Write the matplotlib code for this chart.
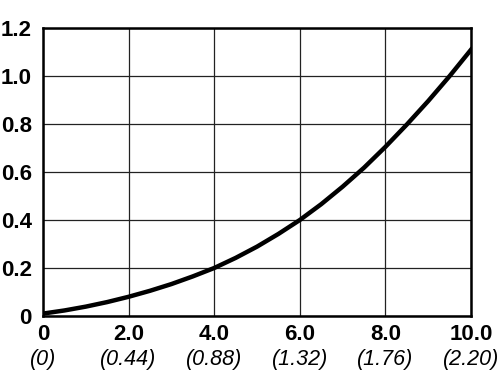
import matplotlib
matplotlib.use("Agg")
import matplotlib.pyplot as plt
from matplotlib import font_manager

# values
x_vals = [0, 0.5, 1, 1.5, 2, 2.5, 3, 3.5, 4, 4.5, 5, 5.5, 6, 6.5, 7, 7.5, 8, 8.5, 9, 9.5, 10]
y_vals = [0.01, 0.023, 0.039, 0.058, 0.08, 0.105, 0.133, 0.165, 0.20, 0.242, 0.289,
          0.342, 0.40, 0.466, 0.539, 0.618, 0.705, 0.798, 0.896, 1.0, 1.11]

x_ticks = [0, 2, 4, 6, 8, 10]
x_labels = ["0", "2.0", "4.0", "6.0", "8.0", "10.0"]
x_sub_labels = ["(0)", "(0.44)", "(0.88)", "(1.32)", "(1.76)", "(2.20)"]
y_ticks = [0, 0.2, 0.4, 0.6, 0.8, 1.0, 1.2]
y_labels = ["0", "0.2", "0.4", "0.6", "0.8", "1.0", "1.2"]

plt.rcParams["font.family"] = ["Liberation Sans", "DejaVu Sans"]

# pick the regular-width Liberation Sans files (avoid the Narrow variants)
bold_file, italic_file = None, None
for f in font_manager.fontManager.ttflist:
    if f.name == "Liberation Sans" and "Narrow" not in f.fname:
        if f.weight in (700, "bold") and f.style == "normal":
            bold_file = f.fname
        if f.weight in (400, "normal", "regular") and f.style == "italic":
            italic_file = f.fname
bold_fp = font_manager.FontProperties(fname=bold_file, size=16) if bold_file else \
    font_manager.FontProperties(family="DejaVu Sans", weight="bold", size=15)
italic_fp = font_manager.FontProperties(fname=italic_file, size=15.5) if italic_file else \
    font_manager.FontProperties(family="DejaVu Sans", style="italic", size=14)

fig = plt.figure(figsize=(5, 3.7), dpi=100)
ax = fig.add_axes([0.086, 0.146, 0.856, 0.778])

ax.plot(x_vals, y_vals, color="black", linewidth=3.2, solid_joinstyle="round", zorder=3)

ax.set_xlim(0, 10)
ax.set_ylim(0, 1.2)
ax.set_xticks(x_ticks)
ax.set_xticklabels(x_labels, fontproperties=bold_fp)
ax.set_yticks(y_ticks)
ax.set_yticklabels(y_labels, fontproperties=bold_fp)
ax.tick_params(axis="x", length=0, pad=6)
ax.tick_params(axis="y", length=0, pad=8)
ax.grid(True, color="#222222", linewidth=0.9)
for spine in ax.spines.values():
    spine.set_linewidth(1.8)
    spine.set_color("black")

# second row of x labels (italic, in parentheses)
sec = ax.secondary_xaxis("bottom")
sec.set_xticks(x_ticks)
sec.set_xticklabels(x_sub_labels, fontproperties=italic_fp)
sec.tick_params(length=0, pad=24)
sec.spines["bottom"].set_visible(False)

fig.savefig("out.png", dpi=100)
